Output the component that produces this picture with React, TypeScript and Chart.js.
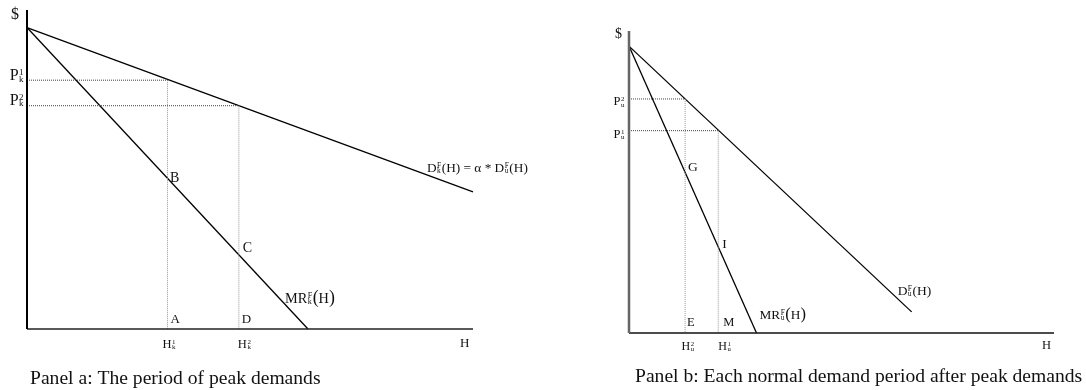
import React, { useEffect, useRef } from 'react';
import { Chart, registerables } from 'chart.js';

Chart.register(...registerables);

// ---------- Panel a: the period of peak demands ----------
const peakAxisX = [0, 100];
const peakAxisY = [0, 100];
const peakDemandH = [0, 100];
const peakDemandP = [94.5, 43];
const peakMRH = [0, 63];
const peakMRP = [94.5, 0];
const peakQty = [31.5, 47.5]; // H_k^1, H_k^2
const peakPrice = [78, 70]; // P_k^1, P_k^2
const peakMRAtQty = [47.25, 23.25]; // B, C

// ---------- Panel b: each normal demand period ----------
const normalAxisX = [0, 100];
const normalAxisY = [0, 100];
const normalDemandH = [0, 66.5];
const normalDemandP = [95, 7];
const normalMRH = [0, 30];
const normalMRP = [95, 0];
const normalQty = [21, 13.2]; // H_u^1, H_u^2
const normalPrice = [67, 77.5]; // P_u^1, P_u^2
const normalMRAtQty = [28.5, 53.2]; // I, G

const titles = [
  'Panel a: The period of peak demands',
  'Panel b: Each normal demand period after peak demands',
];

const FONT = '"Liberation Serif", "Times New Roman", serif';

type Part = { t: string; k?: number } | { sup: string; sub: string };
type Label = {
  at: [number, number];
  dx: number;
  dy: number;
  size: number;
  align?: 'left' | 'right' | 'center';
  parts: Part[];
};

const T = (t: string, k?: number): Part => ({ t, k });
const SS = (sup: string, sub: string): Part => ({ sup, sub });

function drawRich(ctx: CanvasRenderingContext2D, parts: Part[], x: number, y: number, size: number, align: string) {
  const small = size * 0.56;
  const widths = parts.map((p) => {
    if ('t' in p) {
      ctx.font = `${size * (p.k || 1)}px ${FONT}`;
      return ctx.measureText(p.t).width;
    }
    ctx.font = `${small}px ${FONT}`;
    return Math.max(ctx.measureText(p.sup).width, ctx.measureText(p.sub).width) + 1;
  });
  const total = widths.reduce((a, b) => a + b, 0);
  let cx = align === 'right' ? x - total : align === 'center' ? x - total / 2 : x;
  ctx.fillStyle = '#111';
  ctx.textBaseline = 'alphabetic';
  ctx.textAlign = 'left';
  parts.forEach((p, i) => {
    if ('t' in p) {
      ctx.font = `${size * (p.k || 1)}px ${FONT}`;
      ctx.fillText(p.t, cx, y);
    } else {
      ctx.font = `${small}px ${FONT}`;
      ctx.fillText(p.sup, cx + 0.5, y - size * 0.32);
      ctx.fillText(p.sub, cx + 0.5, y + size * 0.1);
    }
    cx += widths[i];
  });
}

function pts(xs: number[], ys: number[]) {
  return xs.map((x, i) => ({ x, y: ys[i] }));
}

function line(data: { x: number; y: number }[], color: string, width: number, dash: number[] = []) {
  return {
    data,
    showLine: true,
    borderColor: color,
    backgroundColor: color,
    borderWidth: width,
    borderDash: dash,
    pointRadius: 0,
    pointHoverRadius: 0,
    clip: false as any,
    tension: 0,
  };
}

type PanelSpec = {
  width: number;
  left: number;
  padding: { left: number; top: number; right: number; bottom: number };
  datasets: any[];
  labels: Label[];
  title: string;
  titleDx: number;
  titleY: number;
  titleSize: number;
};

function buildPeak(): PanelSpec {
  const hDot = '#444';
  const vDot = '#999';
  return {
    width: 560,
    left: 0,
    padding: { left: 27, top: 10, right: 87, bottom: 61 },
    datasets: [
      line(pts([0, 0], peakAxisY), '#000', 2),
      line(pts(peakAxisX, [0, 0]), '#222', 1.6),
      line(pts([0, peakQty[0]], [peakPrice[0], peakPrice[0]]), hDot, 1, [1, 1]),
      line(pts([peakQty[0], peakQty[0]], [peakPrice[0], 0]), vDot, 1, [1, 1]),
      line(pts([0, peakQty[1]], [peakPrice[1], peakPrice[1]]), hDot, 1, [1, 1]),
      line(pts([peakQty[1], peakQty[1]], [peakPrice[1], 0]), vDot, 1, [1, 1]),
      line(pts(peakDemandH, peakDemandP), '#000', 1.3),
      line(pts(peakMRH, peakMRP), '#000', 1.3),
    ],
    labels: [
      { at: [0, peakAxisY[1]], dx: -8, dy: 9, size: 16, align: 'right', parts: [T('$')] },
      { at: [0, peakPrice[0]], dx: -3, dy: 0, size: 16, align: 'right', parts: [T('P'), SS('1', 'k')] },
      { at: [0, peakPrice[1]], dx: -3, dy: -1, size: 16, align: 'right', parts: [T('P'), SS('2', 'k')] },
      { at: [peakQty[0], peakMRAtQty[0]], dx: 2.5, dy: 4, size: 14, parts: [T('B')] },
      { at: [peakQty[1], peakMRAtQty[1]], dx: 4, dy: -3, size: 14, parts: [T('C')] },
      { at: [peakQty[0], 0], dx: 3, dy: -6, size: 13, parts: [T('A')] },
      { at: [peakQty[1], 0], dx: 3, dy: -6, size: 13, parts: [T('D')] },
      { at: [peakQty[0], 0], dx: -5, dy: 19, size: 12.5, parts: [T('H'), SS('1', 'k')] },
      { at: [peakQty[1], 0], dx: -1, dy: 19, size: 12.5, parts: [T('H'), SS('2', 'k')] },
      { at: [peakAxisX[1], 0], dx: -13, dy: 18, size: 13, parts: [T('H')] },
      {
        at: [peakMRH[1], 0], dx: -23, dy: -26, size: 14.3,
        parts: [T('MR'), SS('F', 'k'), T('(', 1.25), T('H'), T(')', 1.25)],
      },
      {
        at: [peakDemandH[1], peakDemandP[1]], dx: -46, dy: -20, size: 13.3,
        parts: [T('D'), SS('F', 'k'), T('(H) = α * D'), SS('F', 'u'), T('(H)')],
      },
    ],
    title: titles[0],
    titleDx: 3,
    titleY: 384,
    titleSize: 19.6,
  };
}

function buildNormal(): PanelSpec {
  const hDot = '#444';
  const vDot = '#999';
  return {
    width: 526,
    left: 560,
    padding: { left: 69, top: 31, right: 32, bottom: 57 },
    datasets: [
      line(pts([0, 0], normalAxisY), '#666', 2.5),
      line(pts(normalAxisX, [0, 0]), '#111', 1.6),
      line(pts([0, normalQty[1]], [normalPrice[1], normalPrice[1]]), hDot, 1, [1, 1]),
      line(pts([normalQty[1], normalQty[1]], [normalPrice[1], 0]), vDot, 1, [1, 1]),
      line(pts([0, normalQty[0]], [normalPrice[0], normalPrice[0]]), hDot, 1, [1, 1]),
      line(pts([normalQty[0], normalQty[0]], [normalPrice[0], 0]), vDot, 1, [1, 1]),
      line(pts(normalDemandH, normalDemandP), '#000', 1.3),
      line(pts(normalMRH, normalMRP), '#000', 1.3),
    ],
    labels: [
      { at: [0, normalAxisY[1]], dx: -7, dy: 7, size: 14, align: 'right', parts: [T('$')] },
      { at: [0, normalPrice[1]], dx: -4, dy: 6.5, size: 12.5, align: 'right', parts: [T('P'), SS('2', 'u')] },
      { at: [0, normalPrice[0]], dx: -4, dy: 7, size: 12.5, align: 'right', parts: [T('P'), SS('1', 'u')] },
      { at: [normalQty[1], normalMRAtQty[1]], dx: 3, dy: -1.5, size: 13.5, parts: [T('G')] },
      { at: [normalQty[0], normalMRAtQty[0]], dx: 4, dy: 1, size: 13.5, parts: [T('I')] },
      { at: [normalQty[1], 0], dx: 2, dy: -7, size: 12.5, parts: [T('E')] },
      { at: [normalQty[0], 0], dx: 5, dy: -7, size: 12.5, parts: [T('M')] },
      { at: [normalQty[1], 0], dx: -3.5, dy: 17, size: 12, parts: [T('H'), SS('2', 'u')] },
      { at: [normalQty[0], 0], dx: 0, dy: 17, size: 12, parts: [T('H'), SS('1', 'u')] },
      { at: [normalAxisX[1], 0], dx: -12, dy: 16, size: 12.5, parts: [T('H')] },
      {
        at: [normalMRH[1], 0], dx: 3, dy: -14, size: 13.3,
        parts: [T('MR'), SS('F', 'u'), T('(', 1.25), T('H'), T(')', 1.25)],
      },
      {
        at: [normalDemandH[1], normalDemandP[1]], dx: -14, dy: -17, size: 13.5,
        parts: [T('D'), SS('F', 'u'), T('(H)')],
      },
    ],
    title: titles[1],
    titleDx: 6,
    titleY: 382,
    titleSize: 19.6,
  };
}

function Panel({ spec }: { spec: PanelSpec }) {
  const ref = useRef<HTMLCanvasElement | null>(null);
  useEffect(() => {
    if (!ref.current) return;
    const labelPlugin = {
      id: 'econLabels',
      afterDatasetsDraw(chart: any) {
        const ctx = chart.ctx as CanvasRenderingContext2D;
        const xs = chart.scales.x;
        const ys = chart.scales.y;
        ctx.save();
        spec.labels.forEach((l) => {
          const px = xs.getPixelForValue(l.at[0]) + l.dx;
          const py = ys.getPixelForValue(l.at[1]) + l.dy;
          drawRich(ctx, l.parts, px, py, l.size, l.align || 'left');
        });
        ctx.font = `${spec.titleSize}px ${FONT}`;
        ctx.fillStyle = '#111';
        ctx.textAlign = 'left';
        ctx.textBaseline = 'alphabetic';
        ctx.fillText(spec.title, chart.chartArea.left + spec.titleDx, spec.titleY);
        ctx.restore();
      },
    };
    const chart = new Chart(ref.current, {
      type: 'scatter',
      data: { datasets: spec.datasets },
      options: {
        animation: false,
        responsive: false,
        maintainAspectRatio: false,
        devicePixelRatio: 1,
        layout: { padding: spec.padding },
        plugins: { legend: { display: false }, tooltip: { enabled: false }, title: { display: false } },
        events: [],
        scales: {
          x: { type: 'linear', min: 0, max: 100, display: false },
          y: { type: 'linear', min: 0, max: 100, display: false },
        },
      },
      plugins: [labelPlugin],
    });
    return () => chart.destroy();
  }, [spec]);
  return (
    <canvas
      ref={ref}
      width={spec.width}
      height={390}
      style={{ position: 'absolute', left: spec.left, top: 0, width: spec.width, height: 390 }}
    />
  );
}

const peakSpec = buildPeak();
const normalSpec = buildNormal();

export default function App() {
  return (
    <div style={{ position: 'fixed', left: 0, top: 0, width: 1086, height: 390, background: '#fff' }}>
      <Panel spec={peakSpec} />
      <Panel spec={normalSpec} />
    </div>
  );
}
